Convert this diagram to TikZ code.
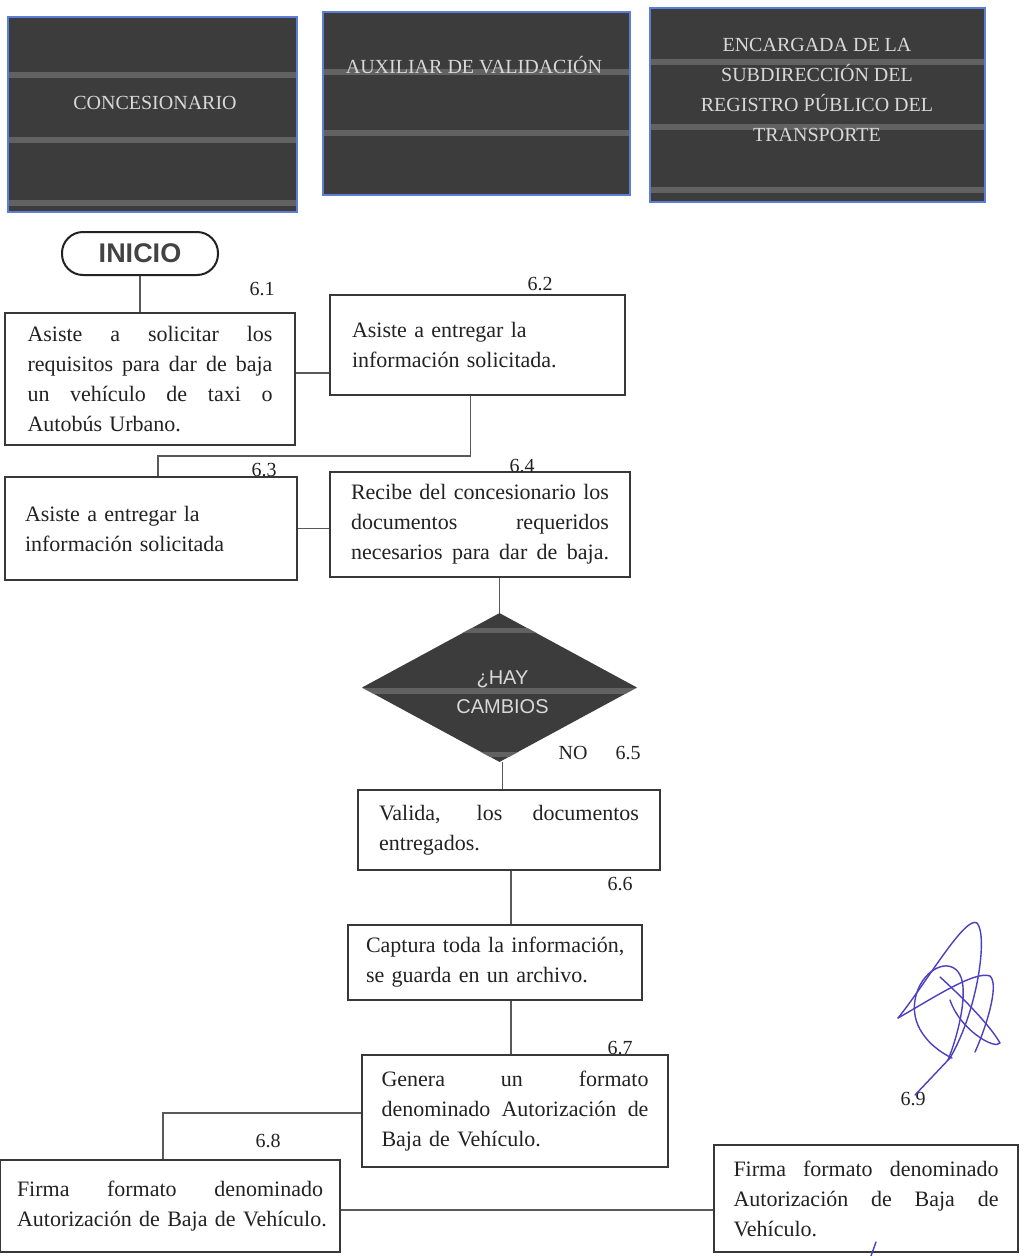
\documentclass[tikz,border=0pt]{standalone}
\usepackage{fontspec}
\setmainfont{Liberation Serif}
\setsansfont{Liberation Sans}
\usetikzlibrary{shapes.geometric,calc}
\definecolor{hdr}{HTML}{3C3C3C}
\definecolor{hdrline}{HTML}{5B7FD6}
\definecolor{stripe}{HTML}{707070}
\definecolor{hdrtext}{HTML}{D8D8D8}
\definecolor{ink}{HTML}{222222}
\definecolor{sig}{HTML}{4B3FC2}
\newcommand\jus[1]{\makebox[\hsize][s]{\spaceskip=.3333em plus 1fil\relax\xspaceskip=.3333em plus 1fil\relax #1}}
\begin{document}
\begin{tikzpicture}[x=1pt,y=-1pt,
 header/.style={rectangle, fill=hdr, draw=hdrline, line width=2pt, inner sep=0pt},
 htext/.style={text=hdrtext, font=\fontsize{20}{30}\selectfont, align=center, inner sep=0pt},
 proc/.style={rectangle, draw=ink!90, line width=2.2pt, inner sep=0pt, text=ink, font=\fontsize{22}{30}\selectfont, align=left},
 conn/.style={draw=ink!75, line width=1.3pt},
 num/.style={font=\fontsize{20}{22}\selectfont, text=ink, inner sep=0pt},
 band/.style={fill=stripe, opacity=0.75},
]
\useasboundingbox (0,0) rectangle (1032,1256);
\fill[white] (0,0) rectangle (1032,1256);

% headers
\node[header, minimum width=289, minimum height=195] (h1) at (152.5,114.5) {};
\node[header, minimum width=307, minimum height=183] (h2) at (476.5,103.5) {};
\node[header, minimum width=335, minimum height=194] (h3) at (817.5,105) {};
\fill[band] (9,72) rectangle (296,78);
\fill[band] (9,137) rectangle (296,143);
\fill[band] (9,200) rectangle (296,206);
\fill[band] (324,69) rectangle (629,75);
\fill[band] (324,130) rectangle (629,136);
\fill[band] (651,59) rectangle (984,65);
\fill[band] (651,124) rectangle (984,130);
\fill[band] (651,187) rectangle (984,193);
\node[htext] (h1t) at (155,103) {CONCESIONARIO};
\node[htext] (h2t) at (474,65) {AUXILIAR DE VALIDACIÓN};
\node[htext] (h3t) at (817,90) {ENCARGADA DE LA\\SUBDIRECCIÓN DEL\\REGISTRO PÚBLICO DEL\\TRANSPORTE};

% start
\node[draw=ink, line width=2pt, rounded corners=21pt, minimum width=156, minimum height=43,
      font=\sffamily\bfseries\fontsize{27}{30}\selectfont, text=ink!85, inner sep=0pt] (inicio) at (140,253.5) {INICIO};

% process boxes
\node[proc, minimum width=290, minimum height=132, text width=245] (b1) at (150,379)
 {\jus{Asiste a solicitar los}\\\jus{requisitos para dar de baja}\\\jus{un vehículo de taxi o}\\Autobús Urbano.};
\node[proc, minimum width=295, minimum height=100, text width=251] (b2) at (477.5,345)
 {Asiste a entregar la\\información solicitada.};
\node[proc, minimum width=292, minimum height=103, text width=252] (b3) at (151,528.5)
 {Asiste a entregar la\\información solicitada};
\node[proc, minimum width=300, minimum height=105, text width=258] (b4) at (480,524.5)
 {\jus{Recibe del concesionario los}\\\jus{documentos requeridos}\\\jus{necesarios para dar de baja.}};
\node[diamond, fill=hdr, minimum width=275, minimum height=149, inner sep=0pt] (d) at (499.5,687.5) {};
\begin{scope}
\clip (d.north) -- (d.east) -- (d.south) -- (d.west) -- cycle;
\fill[band] (350,628) rectangle (650,633);
\fill[band] (350,688) rectangle (650,694);
\fill[band] (350,752) rectangle (650,757);
\end{scope}
\node[text=hdrtext, font=\sffamily\fontsize{20}{29}\selectfont, align=center, inner sep=0pt] (dt) at ([shift={(3,5)}]d.center) {¿HAY\\CAMBIOS};
\node[proc, minimum width=302, minimum height=80, text width=260] (b5) at (509,830)
 {\jus{Valida, los documentos}\\entregados.};
\node[proc, minimum width=294, minimum height=75, text width=258] (b6) at (495,962.5)
 {\jus{Captura toda la información,}\\se guarda en un archivo.};
\node[proc, minimum width=306, minimum height=112, text width=267] (b7) at (515,1111)
 {\jus{Genera un formato}\\\jus{denominado Autorización de}\\Baja de Vehículo.};
\node[proc, minimum width=340, minimum height=92, text width=306] (b8) at (170,1206)
 {\jus{Firma formato denominado}\\\mbox{Autorización de Baja de Vehículo.}};
\node[proc, minimum width=304, minimum height=107, text width=265] (b9) at (866,1198.5)
 {\jus{Firma formato denominado}\\\jus{Autorización de Baja de}\\Vehículo.};

% step labels
\node[num] (n1) at (262,289) {6.1};
\node[num] (n2) at (540,284) {6.2};
\node[num] (n3) at (264,470) {6.3};
\node[num] (n4) at (522,466) {6.4};
\node[num] (nno) at (573,753) {NO};
\node[num] (n5) at (628,753) {6.5};
\node[num] (n6) at (620,884) {6.6};
\node[num] (n7) at (620,1048) {6.7};
\node[num] (n8) at (268,1141) {6.8};
\node[num] (n9) at (913,1099) {6.9};

% connectors
\draw[conn] (inicio.south) -- (inicio.south |- b1.north);
\draw[conn] ([yshift=6pt]b1.east) -- ([yshift=6pt]b1.east -| b2.west);
\draw[conn] ([xshift=-7pt]b2.south) -- ++(0,60) -| ([xshift=7pt]b3.north);
\draw[conn] (b3.east) -- (b3.east -| b4.west);
\draw[conn] (d.north |- b4.south) -- (d.north);
\draw[conn] ([xshift=3pt]d.south) -- ([xshift=3pt]d.south |- b5.north);
\draw[conn] ([xshift=2pt]b5.south) -- ([xshift=2pt]b5.south |- b6.north);
\draw[conn] ([xshift=16pt]b6.south) -- ([xshift=16pt]b6.south |- b7.north);
\draw[conn] ([yshift=-2pt]b7.west) -| ([xshift=-7pt]b8.north);
\draw[conn] ([yshift=-4pt]b8.east) -- ([yshift=-4pt]b8.east -| b9.west);

% signature
\begin{scope}[draw=sig, line width=1.4pt, line cap=round, line join=round]
\draw (898,1018) .. controls (925,985) and (965,915) .. (977,923)
      .. controls (988,935) and (978,1010) .. (950,1058) -- (915,1095);
\draw (898,1018) .. controls (930,1000) and (975,970) .. (990,976)
      .. controls (1000,985) and (985,1030) .. (975,1052);
\draw (952,1058) .. controls (935,1050) and (910,1030) .. (915,1000)
      .. controls (920,970) and (950,955) .. (960,975)
      .. controls (968,990) and (960,1030) .. (948,1060);
\draw (940,977) .. controls (960,995) and (990,1025) .. (1000,1043)
      .. controls (995,1050) and (960,1030) .. (950,1000);
\draw (876,1242) -- (871,1256);
\end{scope}
\end{tikzpicture}
\end{document}
